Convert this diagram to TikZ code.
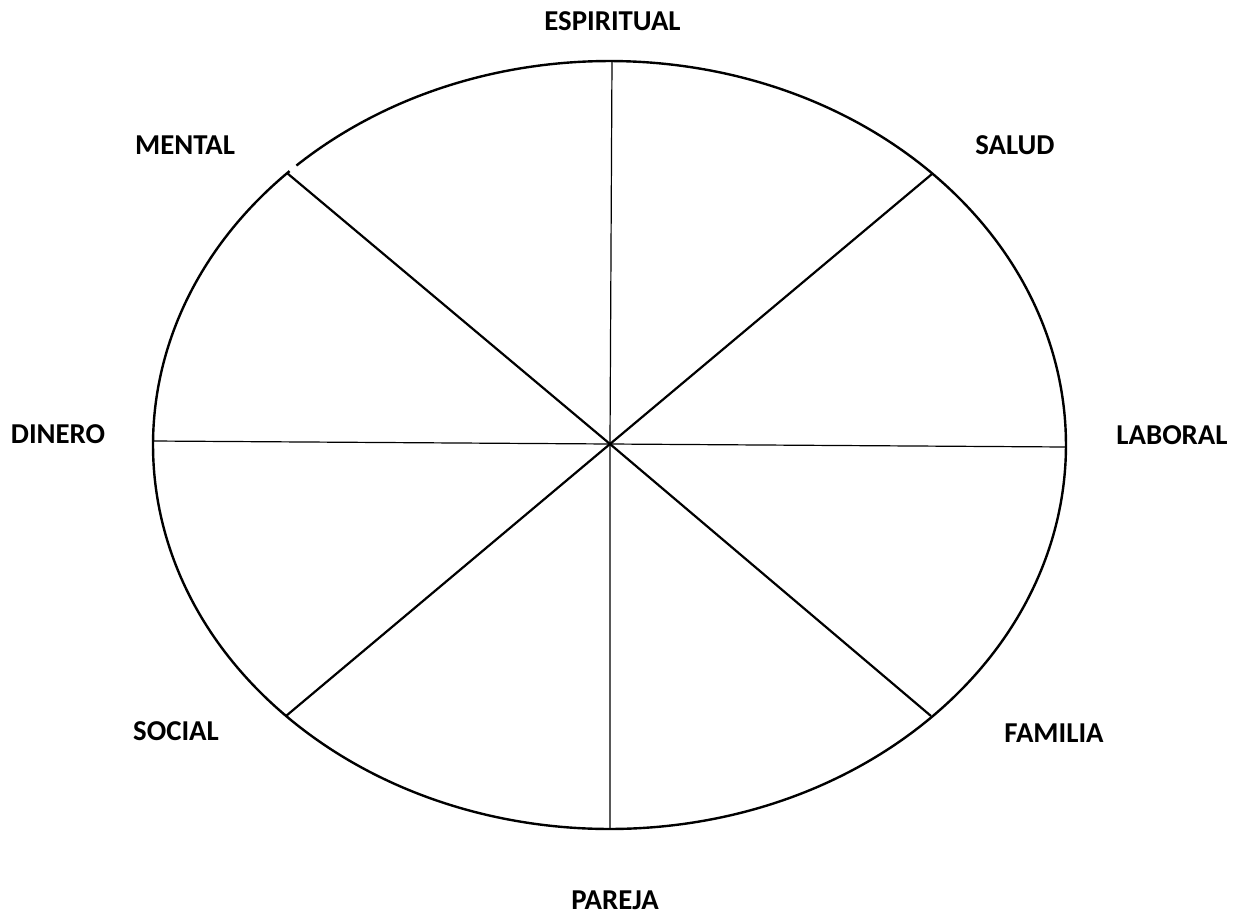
\documentclass[tikz,border=0pt]{standalone}
\usepackage{fontspec}
\setmainfont{Carlito}
\usetikzlibrary{calc}
\tikzset{
  area/.style={font=\fontsize{14.4}{17}\selectfont\bfseries},
  rim/.style={line width=1.2pt},
  thinspoke/.style={line width=0.6pt},
  spoke/.style={line width=1.1pt},
}

\begin{document}
\begin{tikzpicture}[x=0.5pt,y=0.5pt]
  \useasboundingbox (-609.5,445) rectangle (637.5,-472);
  \coordinate (c) at (0.5,1);
  % rim, with the small break near MENTAL
  \draw[rim] (134.5:456.5 and 384) arc[start angle=134.5,end angle=493.3,x radius=456.5,y radius=384];
  % spokes
  \coordinate (tN) at (2.5,384);   \coordinate (tS) at (0.5,-384);
  \coordinate (tW) at (-456.5,4);  \coordinate (tE) at (456.5,-2);
  \coordinate (tNE) at (322.5,271); \coordinate (tSW) at (-323.5,-271);
  \coordinate (tNW) at (-322.5,272); \coordinate (tSE) at (321.5,-271);
  \draw[thinspoke] (tN) -- (c) -- (tS);
  \draw[thinspoke] (tW) -- (c) -- (tE);
  \draw[spoke] (tNE) -- (c) -- (tSW);
  \draw[spoke] (tNW) -- (c) -- (tSE);
  % labels
  \node[area] (esp) at (3,424) {ESPIRITUAL};
  \node[area] (sal) at (405.5,300) {SALUD};
  \node[area] (lab) at (562.5,10) {LABORAL};
  \node[area] (fam) at (444.5,-288) {FAMILIA};
  \node[area] (par) at (5.5,-455) {PAREJA};
  \node[area] (soc) at (-433.5,-286) {SOCIAL};
  \node[area] (din) at (-551.5,11) {DINERO};
  \node[area] (men) at (-424.5,300) {MENTAL};
\end{tikzpicture}
\end{document}
